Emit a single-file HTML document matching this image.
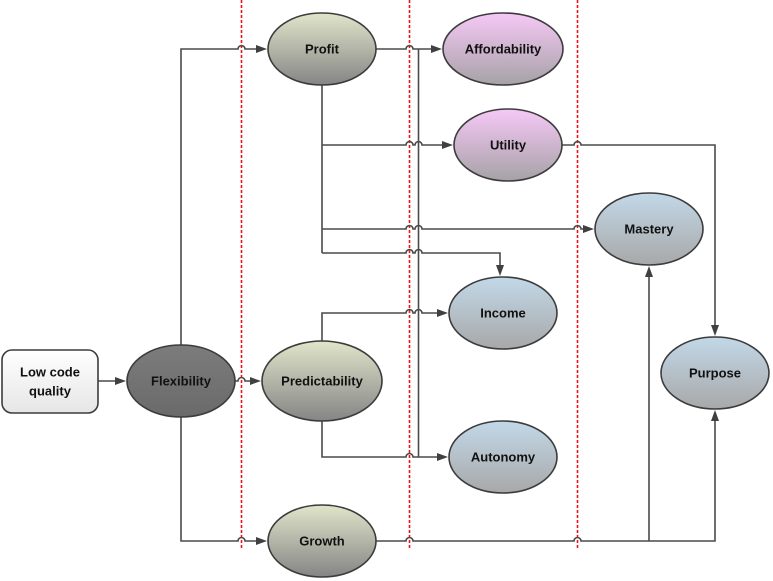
<!DOCTYPE html>
<html><head><meta charset="utf-8"><style>
html,body{margin:0;padding:0;background:#fff;}
svg{display:block;}
text{font-family:"Liberation Sans",sans-serif;font-weight:bold;font-size:13px;fill:#111;text-anchor:middle;dominant-baseline:central;}
</style></head><body>
<svg width="773" height="581" viewBox="0 0 773 581" xmlns="http://www.w3.org/2000/svg">
<defs>
<linearGradient id="ol" x1="0" y1="0" x2="0" y2="1"><stop offset="0" stop-color="#e0e5ca"/><stop offset="1" stop-color="#858585"/></linearGradient>
<linearGradient id="pk" x1="0" y1="0" x2="0" y2="1"><stop offset="0" stop-color="#f6c8f6"/><stop offset="1" stop-color="#a6a2a6"/></linearGradient>
<linearGradient id="bl" x1="0" y1="0" x2="0" y2="1"><stop offset="0" stop-color="#c2d8e8"/><stop offset="1" stop-color="#a8a8a8"/></linearGradient>
<linearGradient id="dk" x1="0" y1="0" x2="0" y2="1"><stop offset="0" stop-color="#7c7c7c"/><stop offset="1" stop-color="#6a6a6a"/></linearGradient>
<linearGradient id="wh" x1="0" y1="0" x2="0" y2="1"><stop offset="0" stop-color="#ffffff"/><stop offset="1" stop-color="#e6e6e6"/></linearGradient>
<marker id="a" markerWidth="12" markerHeight="10" refX="1" refY="5" orient="auto" markerUnits="userSpaceOnUse"><path d="M0,1 L11,5 L0,9 z" fill="#404040"/></marker>
</defs>
<g stroke="#ee1111" stroke-width="1.6" stroke-dasharray="3,2">
<line x1="241.5" y1="0" x2="241.5" y2="548"/>
<line x1="409.5" y1="0" x2="409.5" y2="548"/>
<line x1="577.5" y1="0" x2="577.5" y2="548"/>
</g>
<g fill="none" stroke="#4a4a4a" stroke-width="1.6">
<path d="M98,381 H116" marker-end="url(#a)"/>
<path d="M181,345 V49 H238 a3.5,3.5 0 0 1 7,0 H257" marker-end="url(#a)"/>
<path d="M235,381 H238 a3.5,3.5 0 0 1 7,0 H251" marker-end="url(#a)"/>
<path d="M181,417 V541 H238 a3.5,3.5 0 0 1 7,0 H257" marker-end="url(#a)"/>
<path d="M376,49 H406 a3.5,3.5 0 0 1 7,0 H432" marker-end="url(#a)"/>
<path d="M418.5,49 V457"/>
<path d="M322,421 V457 H406 a3.5,3.5 0 0 1 7,0 H438" marker-end="url(#a)"/>
<path d="M322,85 V253"/>
<path d="M322,145 H406 a3.5,3.5 0 0 1 7,0 H415 a3.5,3.5 0 0 1 7,0 H443" marker-end="url(#a)"/>
<path d="M322,229 H406 a3.5,3.5 0 0 1 7,0 H415 a3.5,3.5 0 0 1 7,0 H574 a3.5,3.5 0 0 1 7,0 H584" marker-end="url(#a)"/>
<path d="M322,253 H406 a3.5,3.5 0 0 1 7,0 H415 a3.5,3.5 0 0 1 7,0 H500 V266" marker-end="url(#a)"/>
<path d="M322,341 V313 H406 a3.5,3.5 0 0 1 7,0 H415 a3.5,3.5 0 0 1 7,0 H438" marker-end="url(#a)"/>
<path d="M562,145 H574 a3.5,3.5 0 0 1 7,0 H715 V326" marker-end="url(#a)"/>
<path d="M376,541 H406 a3.5,3.5 0 0 1 7,0 H574 a3.5,3.5 0 0 1 7,0 H715 V420" marker-end="url(#a)"/>
<path d="M649,541 V276" marker-end="url(#a)"/>
</g>
<g stroke="#3c3c3c" stroke-width="1.6">
<rect x="2" y="350" width="96" height="63" rx="10" fill="url(#wh)"/>
<ellipse cx="181" cy="381" rx="54" ry="36" fill="url(#dk)"/>
<ellipse cx="322" cy="49" rx="54" ry="36" fill="url(#ol)"/>
<ellipse cx="322" cy="381" rx="60" ry="40" fill="url(#ol)"/>
<ellipse cx="322" cy="541" rx="54" ry="36" fill="url(#ol)"/>
<ellipse cx="503" cy="49" rx="60" ry="36" fill="url(#pk)"/>
<ellipse cx="508" cy="145" rx="54" ry="36" fill="url(#pk)"/>
<ellipse cx="649" cy="229" rx="54" ry="36" fill="url(#bl)"/>
<ellipse cx="503" cy="313" rx="54" ry="36" fill="url(#bl)"/>
<ellipse cx="503" cy="457" rx="54" ry="36" fill="url(#bl)"/>
<ellipse cx="715" cy="373" rx="54" ry="36" fill="url(#bl)"/>
</g>
<text x="50" y="372">Low code</text>
<text x="50" y="391">quality</text>
<text x="181" y="381">Flexibility</text>
<text x="322" y="49">Profit</text>
<text x="322" y="381">Predictability</text>
<text x="322" y="541">Growth</text>
<text x="503" y="49">Affordability</text>
<text x="508" y="145">Utility</text>
<text x="649" y="229">Mastery</text>
<text x="503" y="313">Income</text>
<text x="503" y="457">Autonomy</text>
<text x="715" y="373">Purpose</text>
</svg>
</body></html>
